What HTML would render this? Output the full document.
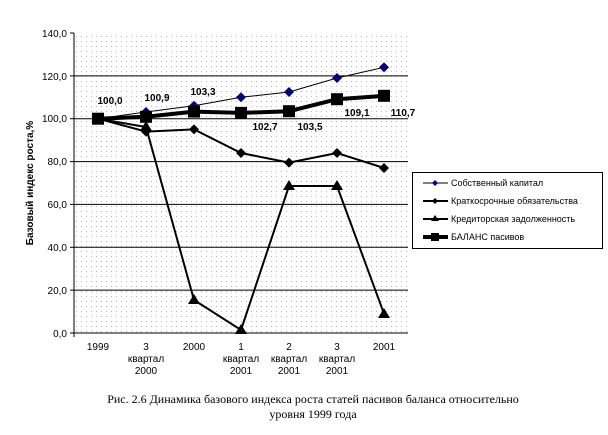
<!DOCTYPE html>
<html><head><meta charset="utf-8"><style>body{margin:0;background:#fff}svg{display:block}</style></head><body>
<svg width="608" height="435" viewBox="0 0 608 435" xmlns="http://www.w3.org/2000/svg" font-family="Liberation Sans, Arial, sans-serif">
<defs><pattern id="d" width="5" height="5" patternUnits="userSpaceOnUse"><rect x="1" y="1" width="1" height="1" fill="#b8b8b8"/></pattern></defs>
<rect x="74" y="33" width="334" height="300" fill="url(#d)"/>
<g stroke="#000" stroke-width="1">
<line x1="74" y1="75.9" x2="408" y2="75.9"/><line x1="74" y1="118.7" x2="408" y2="118.7"/>
<line x1="74" y1="161.6" x2="408" y2="161.6"/><line x1="74" y1="204.4" x2="408" y2="204.4"/>
<line x1="74" y1="247.3" x2="408" y2="247.3"/><line x1="74" y1="290.1" x2="408" y2="290.1"/>
<line x1="74" y1="333" x2="408" y2="333"/><line x1="74" y1="33" x2="74" y2="337"/>
<line x1="70" y1="33" x2="74" y2="33"/><line x1="70" y1="75.9" x2="74" y2="75.9"/><line x1="70" y1="118.7" x2="74" y2="118.7"/><line x1="70" y1="161.6" x2="74" y2="161.6"/><line x1="70" y1="204.4" x2="74" y2="204.4"/><line x1="70" y1="247.3" x2="74" y2="247.3"/><line x1="70" y1="290.1" x2="74" y2="290.1"/><line x1="70" y1="333" x2="74" y2="333"/>
</g>
<g font-size="10" text-anchor="end">
<text x="67" y="37">140,0</text><text x="67" y="80">120,0</text><text x="67" y="122">100,0</text><text x="67" y="165">80,0</text><text x="67" y="208">60,0</text><text x="67" y="251">40,0</text><text x="67" y="294">20,0</text><text x="67" y="337">0,0</text>
</g>
<text transform="translate(33,183) rotate(-90)" font-size="10" font-weight="bold" text-anchor="middle">Базовый индекс роста,%</text>
<g font-size="10" text-anchor="middle">
<text x="98" y="350">1999</text>
<text x="146" y="350">3</text><text x="146" y="362">квартал</text><text x="146" y="374">2000</text>
<text x="194" y="350">2000</text>
<text x="241" y="350">1</text><text x="241" y="362">квартал</text><text x="241" y="374">2001</text>
<text x="289" y="350">2</text><text x="289" y="362">квартал</text><text x="289" y="374">2001</text>
<text x="337" y="350">3</text><text x="337" y="362">квартал</text><text x="337" y="374">2001</text>
<text x="384" y="350">2001</text>
</g>
<!-- Собственный -->
<polyline fill="none" stroke="#000" stroke-width="1" points="98,118.7 146,112 194,105.8 241,97.3 289,92 337,78 384,67.3"/>
<g fill="#000080">
<path d="M98,113.7l5,5-5,5-5-5z"/><path d="M146,107l5,5-5,5-5-5z"/><path d="M194,100.8l5,5-5,5-5-5z"/><path d="M241,92.3l5,5-5,5-5-5z"/><path d="M289,87l5,5-5,5-5-5z"/><path d="M337,73l5,5-5,5-5-5z"/><path d="M384,62.3l5,5-5,5-5-5z"/>
</g>
<!-- Краткосрочные -->
<polyline fill="none" stroke="#000" stroke-width="2" points="98,118.7 146,131.6 194,129.4 241,153 289,162.6 337,153 384,168"/>
<g fill="#000">
<path d="M146,126.6l5,5-5,5-5-5z"/><path d="M194,124.4l5,5-5,5-5-5z"/><path d="M241,148l5,5-5,5-5-5z"/><path d="M289,157.6l5,5-5,5-5-5z"/><path d="M337,148l5,5-5,5-5-5z"/><path d="M384,163l5,5-5,5-5-5z"/>
</g>
<!-- Кредиторская -->
<polyline fill="none" stroke="#000" stroke-width="2" points="98,118.7 146,127 194,300 241,330 289,186 337,186 384,313.7"/>
<g fill="#000">
<path d="M146,121l6,10h-12z"/><path d="M194,294l6,10h-12z"/><path d="M241,324l6,10h-12z"/><path d="M289,180l6,10h-12z"/><path d="M337,180l6,10h-12z"/><path d="M384,308l6,10h-12z"/>
</g>
<!-- Баланс -->
<polyline fill="none" stroke="#000" stroke-width="4" points="98,118.7 146,116.8 194,111.6 241,112.9 289,111.2 337,99.2 384,95.8"/>
<g fill="#000">
<rect x="92" y="112.7" width="12" height="12"/><rect x="140" y="110.8" width="12" height="12"/><rect x="188" y="105.6" width="12" height="12"/><rect x="235" y="106.9" width="12" height="12"/><rect x="283" y="105.2" width="12" height="12"/><rect x="331" y="93.2" width="12" height="12"/><rect x="378" y="89.8" width="12" height="12"/>
</g>
<g font-size="10" font-weight="bold" text-anchor="middle">
<text x="110" y="104">100,0</text><text x="157" y="101">100,9</text><text x="203" y="95">103,3</text>
<text x="265" y="130">102,7</text><text x="310" y="130">103,5</text><text x="357" y="116">109,1</text><text x="403" y="116">110,7</text>
</g>
<!-- legend -->
<rect x="412.5" y="172.5" width="190" height="76" fill="#fff" stroke="#000"/>
<g font-size="9">
<line x1="423" y1="183" x2="448" y2="183" stroke="#000"/><path d="M435,180l3,3-3,3-3-3z" fill="#000080"/><text x="451" y="186">Собственный капитал</text>
<line x1="423" y1="201" x2="448" y2="201" stroke="#000" stroke-width="2"/><path d="M435,198l3,3-3,3-3-3z"/><text x="451" y="204">Краткосрочные обязательства</text>
<line x1="423" y1="219" x2="448" y2="219" stroke="#000" stroke-width="2"/><path d="M435,215l4,6h-8z"/><text x="451" y="222">Кредиторская задолженность</text>
<line x1="423" y1="237" x2="448" y2="237" stroke="#000" stroke-width="4"/><rect x="431" y="233" width="8" height="8"/><text x="451" y="240">БАЛАНС пасивов</text>
</g>
<g font-family="Liberation Serif, Times New Roman, serif" font-size="12" text-anchor="middle">
<text x="313" y="403">Рис. 2.6 Динамика базового индекса роста статей пасивов баланса относительно</text>
<text x="313" y="418">уровня 1999 года</text>
</g>
</svg>
</body></html>
